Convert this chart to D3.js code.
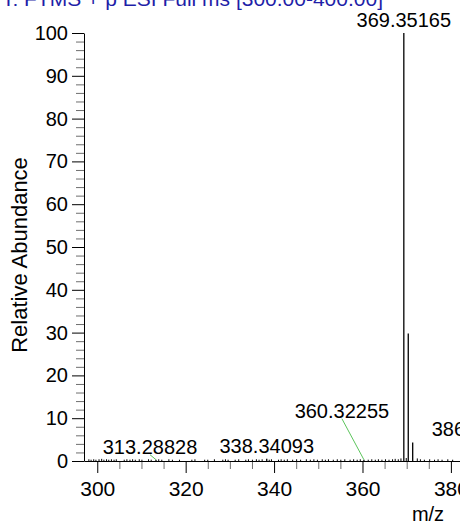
<!DOCTYPE html>
<html>
<head>
<meta charset="utf-8">
<script src="https://cdn.jsdelivr.net/npm/d3@7/dist/d3.min.js"></script>
<style>
  html, body { margin: 0; padding: 0; background: #fff; overflow: hidden; }
  svg { display: block; font-family: "Liberation Sans", Arial, sans-serif; }
</style>
</head>
<body>
<svg id="chart" width="460" height="525"></svg>
<script>
// Spectrum header and axis titles
const scanTitle = "T: FTMS + p ESI Full ms [300.00-400.00]";
const yTitle = "Relative Abundance";
const xTitle = "m/z";

// Labelled centroid peaks (m/z, relative abundance %)
const peakMz   = [313.28828, 338.34093, 360.32255, 369.35165, 370.35500, 371.35800, 386.35477];
const peakAbun = [0.3, 0.5, 0.3, 100, 29.8, 4.3, 4.4];
const peakLabel = ["313.28828", "338.34093", "360.32255", "369.35165", "", "", "386.35477"];

// Baseline noise peaks
const noiseMz = [298.1, 298.6, 299.2, 299.7, 300.4, 301.0, 301.5, 302.1, 302.6, 303.2, 303.8, 304.3,
  306.1, 306.7, 307.4, 308.0, 308.6, 309.5, 310.1, 311.6, 312.2, 313.9, 314.6, 316.2, 317.0,
  318.6, 321.4, 322.1, 324.3, 325.0, 326.5, 328.4, 329.0, 329.6, 331.2, 332.0, 333.6, 334.2,
  335.1, 336.0, 336.6, 337.3, 338.9, 339.4, 341.0, 341.6, 342.3, 343.0, 344.2, 345.1, 346.0,
  347.3, 348.2, 349.0, 349.8, 350.9, 351.6, 352.3, 353.4, 354.3, 355.1, 356.0, 357.2, 358.0,
  358.8, 359.5, 361.3, 362.1, 362.9, 363.6, 364.4, 365.2, 366.0, 366.8, 367.4, 368.1, 368.7,
  369.9, 372.4, 373.1, 374.0, 375.2, 376.3, 377.1, 378.0, 379.3, 380.4];
const noiseAbun = [0.4, 0.3, 0.4, 0.3, 0.4, 0.5, 0.3, 0.4, 0.3, 0.4, 0.3, 0.4,
  0.3, 0.4, 0.3, 0.4, 0.3, 0.4, 0.3, 0.4, 0.3, 0.4, 0.3, 0.4, 0.3,
  0.3, 0.3, 0.4, 0.3, 0.3, 0.4, 0.3, 0.4, 0.3, 0.3, 0.4, 0.3, 0.4,
  0.3, 0.4, 0.3, 0.4, 0.3, 0.4, 0.3, 0.4, 0.3, 0.4, 0.3, 0.4, 0.3,
  0.4, 0.3, 0.4, 0.3, 0.4, 0.3, 0.4, 0.3, 0.4, 0.3, 0.4, 0.3, 0.4,
  0.3, 0.4, 0.3, 0.4, 0.3, 0.4, 0.3, 0.4, 0.3, 0.4, 0.5, 0.4, 0.6,
  0.7, 0.6, 0.4, 0.3, 0.4, 0.3, 0.4, 0.3, 0.4, 0.3];

// Axis ticks
const xMajorTicks = [300, 320, 340, 360, 380, 400];
const xMinorTicks = [305, 310, 315, 325, 330, 335, 345, 350, 355, 365, 370, 375, 385, 390, 395];
const yMajorTicks = [0, 10, 20, 30, 40, 50, 60, 70, 80, 90, 100];
const yMinorTicks = [2, 4, 6, 8, 12, 14, 16, 18, 22, 24, 26, 28, 32, 34, 36, 38, 42, 44, 46, 48,
  52, 54, 56, 58, 62, 64, 66, 68, 72, 74, 76, 78, 82, 84, 86, 88, 92, 94, 96, 98];

// ---- drawing ----
const svg = d3.select("#chart");
const x = d3.scaleLinear().domain([297, 400]).range([84, 539.3]);
const y = d3.scaleLinear().domain([0, 100]).range([461, 33]);

// header
svg.append("text")
  .attr("x", 383).attr("y", 6)
  .attr("text-anchor", "end")
  .attr("font-size", 21)
  .attr("fill", "#1f1fa8")
  .text(scanTitle);

// minor ticks first so axis lines sit on top
svg.append("g")
  .attr("transform", `translate(${x.range()[0]},0)`)
  .call(d3.axisLeft(y).tickValues(yMinorTicks).tickSize(8).tickSizeOuter(0).tickFormat(""))
  .call(g => g.select(".domain").remove())
  .call(g => g.selectAll("line").attr("stroke", "#6e6e6e"));

svg.append("g")
  .attr("transform", `translate(0,${y(0)})`)
  .call(d3.axisBottom(x).tickValues(xMinorTicks).tickSize(8).tickSizeOuter(0).tickFormat(""))
  .call(g => g.select(".domain").remove())
  .call(g => g.selectAll("line").attr("stroke", "#6e6e6e"));

// y axis
svg.append("g")
  .attr("transform", `translate(${x.range()[0]},0)`)
  .call(d3.axisLeft(y).tickValues(yMajorTicks).tickSize(12).tickSizeOuter(0).tickPadding(4))
  .call(g => g.selectAll("text").attr("font-size", 20).attr("fill", "#000").attr("font-family", null))
  .call(g => g.selectAll("line, path").attr("stroke", "#000"));

// x axis
svg.append("g")
  .attr("transform", `translate(0,${y(0)})`)
  .call(d3.axisBottom(x).tickValues(xMajorTicks).tickSize(12).tickSizeOuter(0).tickPadding(8))
  .call(g => g.selectAll("text").attr("font-size", 21).attr("fill", "#000").attr("font-family", null))
  .call(g => g.selectAll("line, path").attr("stroke", "#000"));

// noise
svg.append("g").selectAll("line")
  .data(noiseMz.map((m, i) => ({ m, a: noiseAbun[i] })))
  .join("line")
  .attr("x1", d => x(d.m)).attr("x2", d => x(d.m))
  .attr("y1", y(0)).attr("y2", d => y(d.a))
  .attr("stroke", "#000").attr("stroke-width", 1);

// peaks
const peaks = peakMz.map((m, i) => ({ m, a: peakAbun[i], label: peakLabel[i] }));
svg.append("g").selectAll("line")
  .data(peaks)
  .join("line")
  .attr("x1", d => x(d.m)).attr("x2", d => x(d.m))
  .attr("y1", y(0)).attr("y2", d => y(d.a))
  .attr("stroke", "#000").attr("stroke-width", 1.3);

// label placement: shifts (px) applied where a label is moved off its peak
const labelShift = {
  "313.28828": { dx: -6, dy: 0, leader: true },
  "360.32255": { dx: -22, dy: -36, leader: true }
};
const gap = 6;
const lab = svg.append("g");
peaks.filter(d => d.label).forEach(d => {
  const s = labelShift[d.label] || { dx: 0, dy: 0, leader: false };
  const px = x(d.m), py = y(d.a);
  const lx = px + s.dx, ly = py - gap + s.dy;
  if (s.leader) {
    lab.append("line")
      .attr("x1", lx).attr("y1", ly + 1)
      .attr("x2", px).attr("y2", py)
      .attr("stroke", "#5cc55c").attr("stroke-width", 1);
  }
  lab.append("text")
    .attr("x", lx).attr("y", ly)
    .attr("text-anchor", "middle")
    .attr("font-size", 20)
    .text(d.label);
});

// axis titles
svg.append("text")
  .attr("transform", "translate(27,255) rotate(-90)")
  .attr("text-anchor", "middle")
  .attr("font-size", 22)
  .text(yTitle);

svg.append("text")
  .attr("x", 428).attr("y", 521)
  .attr("text-anchor", "middle")
  .attr("font-size", 20)
  .text(xTitle);
</script>
</body>
</html>
